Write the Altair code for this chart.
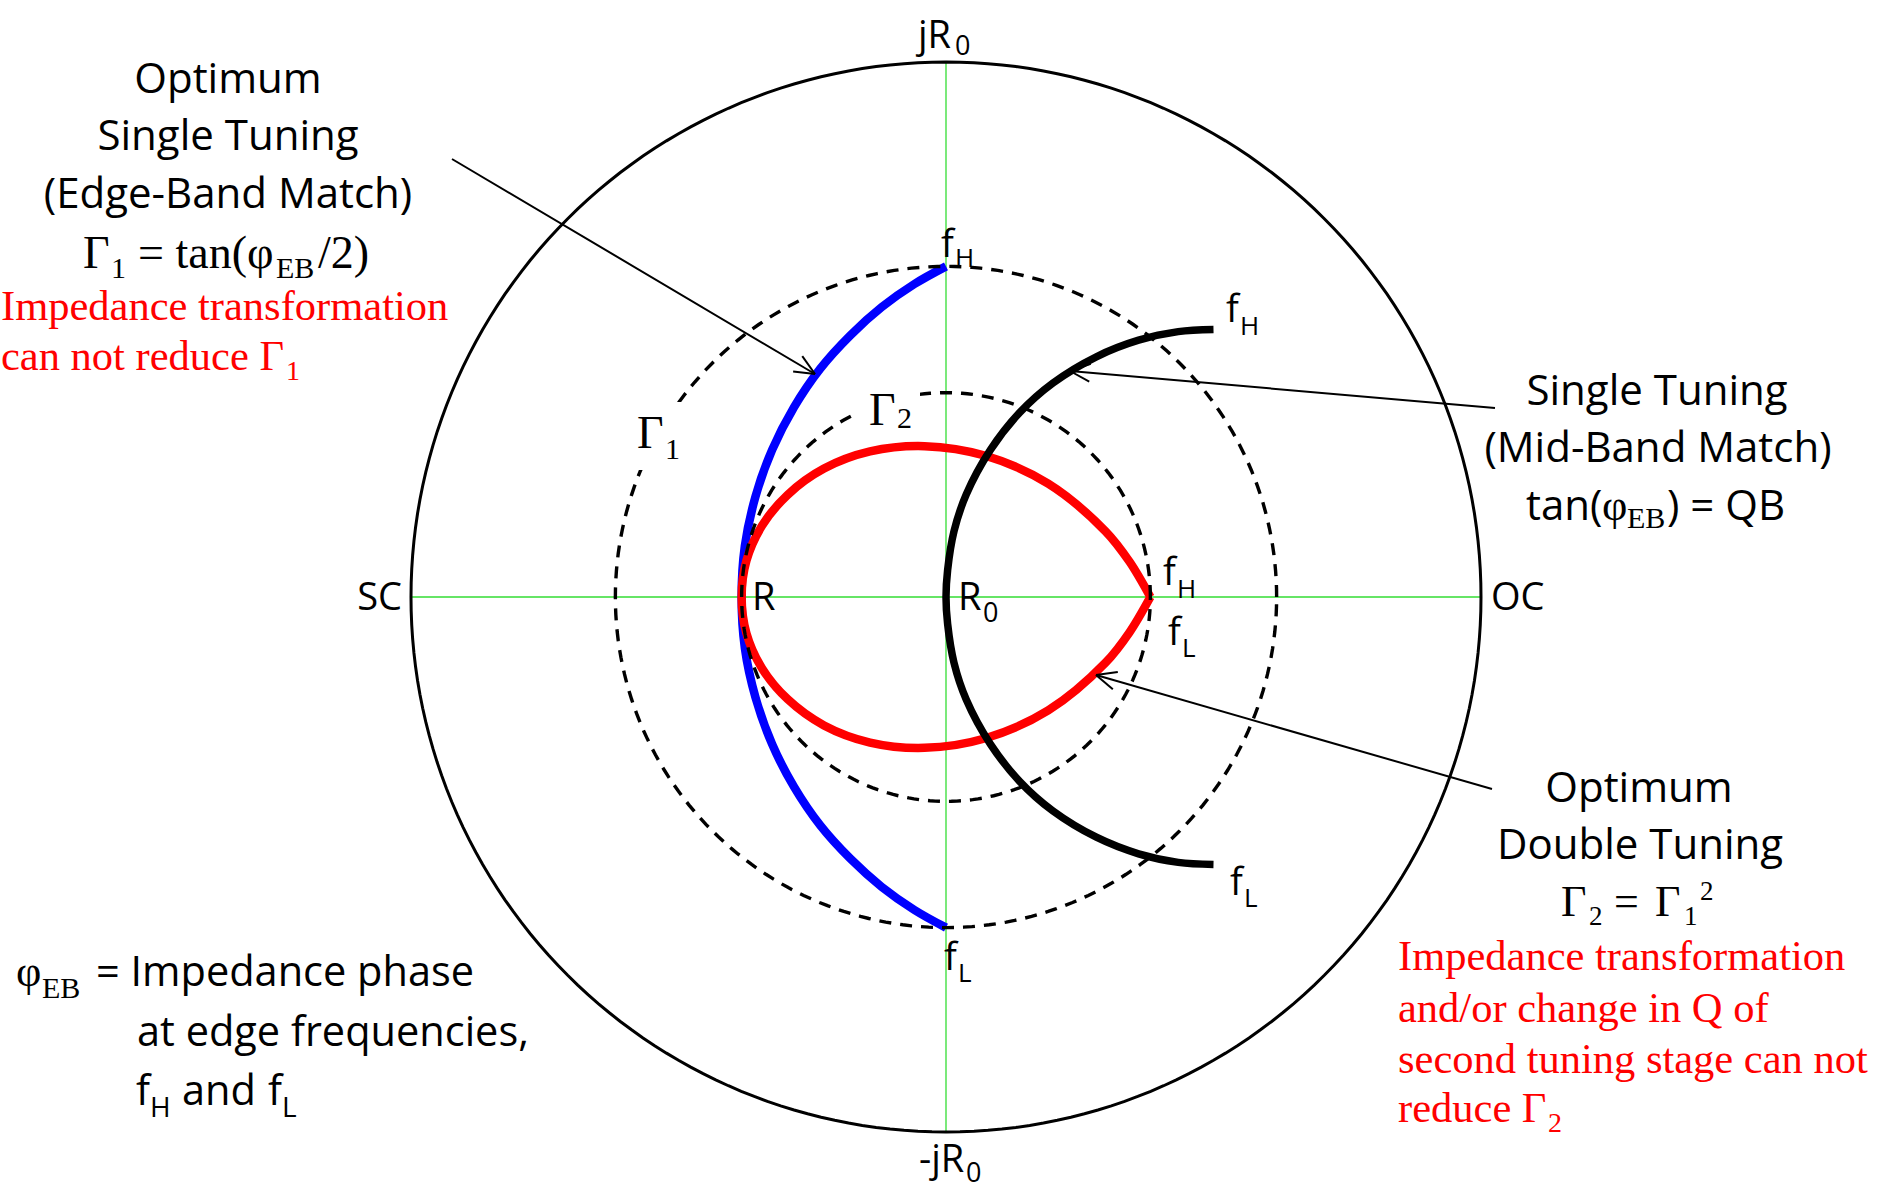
import numpy as np
import pandas as pd
import altair as alt

# ---------------------------------------------------------------------------
# Canvas and reflection-coefficient (Γ) plane geometry
# ---------------------------------------------------------------------------
W, H = 1879, 1189
CX, CY, UNIT = 946.0, 597.0, 535.0      # canvas centre of Γ = 0 and pixels per |Γ| = 1


def gx(px):
    return (px - CX) / UNIT


def gy(py):
    return (CY - py) / UNIT


XS = alt.Scale(domain=[gx(0), gx(W)], nice=False, zero=False)
YS = alt.Scale(domain=[gy(H), gy(0)], nice=False, zero=False)

# |Γ| bounds
GAMMA_1 = 0.618      # optimum single tuning: tan(φEB/2) with tan(φEB) = QB = 2
GAMMA_2 = 0.382      # optimum double tuning: Γ1²

# ---------------------------------------------------------------------------
# Loci in the Γ plane, listed from fL to fH (real part, imaginary part)
# ---------------------------------------------------------------------------
# optimum single tuning, edge-band match (series resonator with R < R0)
blue_re = [0.000, -0.059, -0.120, -0.179, -0.235, -0.284, -0.325, -0.356, -0.376, -0.382,
           -0.376, -0.356, -0.325, -0.284, -0.235, -0.179, -0.120, -0.059, 0.000]
blue_im = [-0.618, -0.585, -0.542, -0.489, -0.427, -0.355, -0.275, -0.188, -0.095, 0.000,
           0.095, 0.188, 0.275, 0.355, 0.427, 0.489, 0.542, 0.585, 0.618]

# single tuning, mid-band match (R = R0)
black_re = [0.500, 0.434, 0.360, 0.281, 0.200, 0.138, 0.083, 0.038, 0.015, 0.003, 0.000,
            0.003, 0.015, 0.038, 0.083, 0.138, 0.200, 0.281, 0.360, 0.434, 0.500]
black_im = [-0.500, -0.496, -0.480, -0.449, -0.400, -0.345, -0.275, -0.192, -0.123, -0.050, 0.000,
            0.050, 0.123, 0.192, 0.275, 0.345, 0.400, 0.449, 0.480, 0.496, 0.500]

# optimum double tuning
red_re = [0.382, 0.343, 0.298, 0.191, 0.074, -0.040, -0.142, -0.228, -0.296, -0.344, -0.373, -0.382,
          -0.373, -0.344, -0.296, -0.228, -0.142, -0.040, 0.074, 0.191, 0.298, 0.343, 0.382]
red_im = [0.000, -0.066, -0.123, -0.212, -0.264, -0.282, -0.272, -0.240, -0.191, -0.133, -0.068, 0.000,
          0.068, 0.133, 0.191, 0.240, 0.272, 0.282, 0.264, 0.212, 0.123, 0.066, 0.000]

# ---------------------------------------------------------------------------
# Styles
# ---------------------------------------------------------------------------
SANS = "Open Sans"
SERIF = "Liberation Serif"
BLACK = "#000000"
RED = "#ff0000"
BLUE = "#0000ff"
GREEN = "#33dd33"
BODY = 42            # size of the sans-serif callout text


def xenc(field="x"):
    return alt.X(f"{field}:Q", scale=XS, axis=None)


def yenc(field="y"):
    return alt.Y(f"{field}:Q", scale=YS, axis=None)


# ---------------------------------------------------------------------------
# Reference circles: |Γ| = 1 boundary and the Γ1 / Γ2 bounds
# ---------------------------------------------------------------------------
def ring(radius):
    t = np.linspace(0.0, 2.0 * np.pi, 241)
    return pd.DataFrame({"x": radius * np.cos(t), "y": radius * np.sin(t), "k": np.arange(t.size)})


boundary = alt.Chart(ring(1.0)).mark_line(color=BLACK, strokeWidth=3).encode(
    x=xenc(), y=yenc(), order="k:Q")

bound_layers = [
    alt.Chart(ring(r)).mark_line(color=BLACK, strokeWidth=3.4, strokeDash=[12, 9]).encode(
        x=xenc(), y=yenc(), order="k:Q")
    for r in (GAMMA_1, GAMMA_2)
]

# real and imaginary axes inside the chart
axes_df = pd.DataFrame({"x": [-1.0, 0.0], "y": [0.0, -1.0], "x2": [1.0, 0.0], "y2": [0.0, 1.0]})
axes = alt.Chart(axes_df).mark_rule(color=GREEN, strokeWidth=1.3).encode(
    x=xenc(), y=yenc(), x2="x2:Q", y2="y2:Q")


# ---------------------------------------------------------------------------
# Tuning loci
# ---------------------------------------------------------------------------
def locus(re, im, color, width):
    df = pd.DataFrame({"x": re, "y": im, "k": np.arange(len(re))})
    return alt.Chart(df).mark_line(color=color, strokeWidth=width, interpolate="catmull-rom").encode(
        x=xenc(), y=yenc(), order="k:Q")


blue = locus(blue_re, blue_im, BLUE, 8.5)
red = locus(red_re, red_im, RED, 8.5)
black = locus(black_re, black_im, BLACK, 7.5)

# ---------------------------------------------------------------------------
# Callout arrows (canvas pixels: tail -> head)
# ---------------------------------------------------------------------------
ARROWS = [((452, 159), (815, 374)),
          ((1495, 408), (1070, 371)),
          ((1492, 789), (1096, 675))]
HEAD_LEN = 22.0 / UNIT
HEAD_ANGLE = np.radians(24)

shafts, heads = [], []
for (sx, sy), (tx, ty) in ARROWS:
    x0, y0, x1, y1 = gx(sx), gy(sy), gx(tx), gy(ty)
    shafts.append({"x": x0, "y": y0, "x2": x1, "y2": y1})
    ang = np.arctan2(y1 - y0, x1 - x0)
    for s in (1, -1):
        a = ang + np.pi + s * HEAD_ANGLE
        heads.append({"x": x1, "y": y1, "x2": x1 + HEAD_LEN * np.cos(a), "y2": y1 + HEAD_LEN * np.sin(a)})

arrows = alt.Chart(pd.DataFrame(shafts + heads)).mark_rule(color=BLACK, strokeWidth=2).encode(
    x=xenc(), y=yenc(), x2="x2:Q", y2="y2:Q")

# white label boxes behind the Γ1 / Γ2 bound labels (canvas pixels)
boxes = pd.DataFrame([
    {"x": gx(628), "x2": gx(688), "y": gy(402), "y2": gy(470)},
    {"x": gx(856), "x2": gx(920), "y": gy(374), "y2": gy(440)},
])
label_boxes = alt.Chart(boxes).mark_rect(color="white").encode(
    x=xenc(), y=yenc(), x2="x2:Q", y2="y2:Q")

# ---------------------------------------------------------------------------
# Text (canvas pixel anchors at the text baseline)
# ---------------------------------------------------------------------------
T = []


def put(text, px, py, size, font=SANS, color=BLACK, align="left"):
    T.append({"text": text, "x": gx(px), "y": gy(py), "size": size,
              "font": font, "color": color, "align": align})


# edge-band match block
put("Optimum", 228, 93, BODY, align="center")
put("Single Tuning", 228, 150, BODY, align="center")
put("(Edge-Band Match)", 228, 208, BODY, align="center")
put("Γ", 83, 268, 46, SERIF)
put("1", 111, 278, 30, SERIF)
put("= tan(φ", 138, 268, 46, SERIF)
put("EB", 276, 278, 30, SERIF)
put("/2)", 318, 268, 46, SERIF)
put("Impedance transformation", 1, 320, 42.5, SERIF, RED)
put("can not reduce Γ", 1, 370, 42.5, SERIF, RED)
put("1", 286, 380, 28, SERIF, RED)

# mid-band match block
put("Single Tuning", 1657, 405, BODY, align="center")
put("(Mid-Band Match)", 1658, 462, BODY, align="center")
put("tan(", 1526, 520, BODY)
put("φ", 1602, 520, 44, SERIF)
put("EB", 1627, 528, 30, SERIF)
put(") = QB", 1667, 520, BODY)

# double tuning block
put("Optimum", 1639, 802, BODY, align="center")
put("Double Tuning", 1640, 859, BODY, align="center")
put("Γ", 1561, 916, 44, SERIF)
put("2", 1589, 925, 27, SERIF)
put("=", 1614, 916, 44, SERIF)
put("Γ", 1655, 916, 44, SERIF)
put("1", 1684, 925, 27, SERIF)
put("2", 1700, 900, 27, SERIF)
put("Impedance transformation", 1398, 970, 42.5, SERIF, RED)
put("and/or change in Q of", 1398, 1022, 42.5, SERIF, RED)
put("second tuning stage can not", 1398, 1073, 42.5, SERIF, RED)
put("reduce Γ", 1398, 1122, 42.5, SERIF, RED)
put("2", 1548, 1132, 28, SERIF, RED)

# definition note
put("φ", 16, 986, 44, SERIF)
put("EB", 42, 998, 30, SERIF)
put("= Impedance phase", 96, 986, 41.5)
put("at edge frequencies,", 137, 1046, 41.5)
put("f", 136, 1105, 41.5)
put("H", 150, 1117, 28)
put("and", 182, 1105, 41.5)
put("f", 268, 1105, 41.5)
put("L", 282, 1117, 28)

# boundary and axis labels
put("jR", 918, 48, 38)
put("0", 955, 55, 27)
put("-jR", 919, 1172, 38)
put("0", 966, 1182, 27)
put("SC", 402, 610, 38, align="right")
put("OC", 1491, 610, 38)
put("R", 752, 610, 38)
put("R", 958, 610, 38)
put("0", 983, 622, 27)

# band-edge labels
put("f", 941, 257, 38)
put("H", 955, 267, 26)
put("f", 944, 970, 38)
put("L", 958, 982, 26)
put("f", 1163, 585, 38)
put("H", 1177, 598, 26)
put("f", 1168, 645, 38)
put("L", 1182, 657, 26)
put("f", 1226, 322, 38)
put("H", 1240, 335, 26)
put("f", 1230, 895, 38)
put("L", 1244, 907, 26)

# bound labels
put("Γ", 637, 448, 46, SERIF)
put("1", 665, 459, 30, SERIF)
put("Γ", 869, 425, 46, SERIF)
put("2", 897, 428, 30, SERIF)

text_df = pd.DataFrame(T)
text_layers = []
for (font, align), grp in text_df.groupby(["font", "align"]):
    text_layers.append(
        alt.Chart(grp.drop(columns=["font", "align"])).mark_text(
            font=font, align=align, baseline="alphabetic").encode(
            x=xenc(), y=yenc(), text="text:N",
            size=alt.Size("size:Q", scale=None),
            color=alt.Color("color:N", scale=None))
    )

chart = alt.layer(axes, boundary, blue, red, black, *bound_layers, arrows, label_boxes,
                  *text_layers).properties(
    width=W, height=H, autosize=alt.AutoSizeParams(type="none"), padding=0, background="white"
).configure_view(stroke=None)

chart.save("out.html", embed_options={"renderer": "svg", "actions": False})
